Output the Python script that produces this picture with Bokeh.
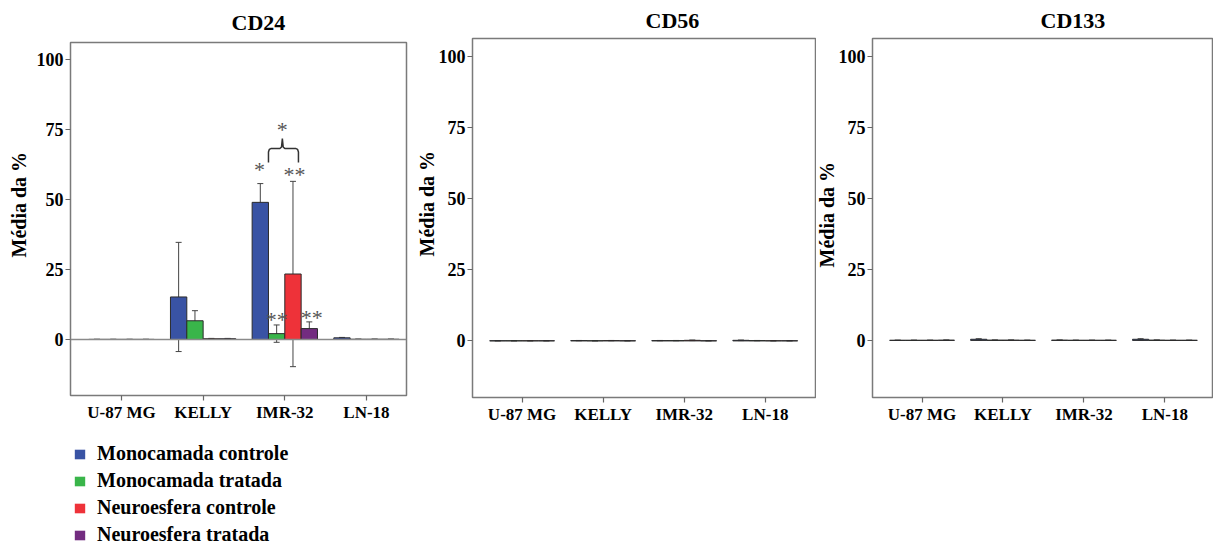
from bokeh.plotting import figure
from bokeh.models import (ColumnDataSource, Whisker, TeeHead, FixedTicker, Range1d,
                          Span, Legend, LegendItem, Title)
from bokeh.layouts import row, column
from bokeh.embed import file_html
from bokeh.resources import INLINE
from bokeh.core.properties import value

# ---------------- data ----------------
categories = ["U-87 MG", "KELLY", "IMR-32", "LN-18"]
series_names = ["Monocamada controle", "Monocamada tratada",
                "Neuroesfera controle", "Neuroesfera tratada"]
series_colors = ["#3953A4", "#39B54A", "#EE3239", "#732C80"]
y_ticks = [0, 25, 50, 75, 100]

# CD24 (mean %, error)
cd24_mono_ctrl = [0.05, 15.2, 49.0, 0.6]
cd24_mono_ctrl_err = [0.05, 19.5, 6.7, 0.15]
cd24_mono_trat = [0.05, 6.7, 2.1, 0.1]
cd24_mono_trat_err = [0.05, 3.6, 3.1, 0.05]
cd24_neuro_ctrl = [0.05, 0.3, 23.4, 0.1]
cd24_neuro_ctrl_err = [0.05, 0.1, 33.1, 0.05]
cd24_neuro_trat = [0.05, 0.3, 3.9, 0.1]
cd24_neuro_trat_err = [0.05, 0.1, 2.4, 0.05]

# CD56
cd56_mono_ctrl = [0.05, 0.1, 0.1, 0.2]
cd56_mono_ctrl_err = [0.05, 0.05, 0.05, 0.1]
cd56_mono_trat = [0.05, 0.05, 0.1, 0.1]
cd56_mono_trat_err = [0.05, 0.05, 0.05, 0.05]
cd56_neuro_ctrl = [0.05, 0.1, 0.2, 0.05]
cd56_neuro_ctrl_err = [0.05, 0.05, 0.1, 0.05]
cd56_neuro_trat = [0.05, 0.05, 0.05, 0.05]
cd56_neuro_trat_err = [0.05, 0.05, 0.05, 0.05]

# CD133
cd133_mono_ctrl = [0.05, 0.4, 0.1, 0.4]
cd133_mono_ctrl_err = [0.05, 0.2, 0.05, 0.2]
cd133_mono_trat = [0.05, 0.1, 0.05, 0.1]
cd133_mono_trat_err = [0.05, 0.05, 0.05, 0.05]
cd133_neuro_ctrl = [0.05, 0.1, 0.05, 0.05]
cd133_neuro_ctrl_err = [0.05, 0.05, 0.05, 0.05]
cd133_neuro_trat = [0.1, 0.05, 0.05, 0.05]
cd133_neuro_trat_err = [0.05, 0.05, 0.05, 0.05]

# significance marks on CD24 (x in category units, y = centre of mark in %)
sig_x = [2.69, 2.90, 3.12, 3.33, 2.97]
sig_y = [61.4, 7.9, 59.6, 8.6, 75.7]
sig_text = ["*", "**", "**", "**", "*"]
brace_x = [2.80, 2.80, 2.81, 2.83, 2.94, 2.96, 2.97, 2.98, 3.00, 3.137, 3.157, 3.167, 3.167]
brace_y = [63.2, 67.0, 67.9, 68.2, 68.2, 68.8, 71.8, 68.8, 68.2, 68.2, 67.9, 67.0, 63.2]

FONT = "Liberation Serif"
BAR_W = 0.2
OFFSETS = [-0.3, -0.1, 0.1, 0.3]


def make_panel(title, means, errs, width, height, borders, xr, yr,
               title_offset, title_standoff, ylab_offset, ylab_standoff):
    p = figure(width=width, height=height, output_backend="svg", toolbar_location=None,
               x_range=Range1d(*xr), y_range=Range1d(*yr), title=title)
    p.min_border_left, p.min_border_right, p.min_border_top, p.min_border_bottom = borders
    p.background_fill_color = "white"
    p.border_fill_color = "white"
    p.outline_line_color = "#7a7a7a"
    p.outline_line_width = 1.5
    p.xgrid.visible = False
    p.ygrid.visible = False

    for k in range(4):
        xs = [i + 1 + OFFSETS[k] for i in range(len(categories))]
        m = means[k]
        e = errs[k]
        src = ColumnDataSource(dict(x=xs, top=m,
                                    upper=[a + b for a, b in zip(m, e)],
                                    lower=[a - b for a, b in zip(m, e)]))
        p.vbar(x="x", top="top", bottom=0, width=BAR_W, source=src,
               fill_color=series_colors[k], line_color="#2b2b2b", line_width=1)
        w = Whisker(source=src, base="x", upper="upper", lower="lower",
                    line_color="#444444", line_width=1,
                    upper_head=TeeHead(size=6, line_color="#444444", line_width=1),
                    lower_head=TeeHead(size=6, line_color="#444444", line_width=1))
        p.add_layout(w)

    # axes
    p.xaxis.ticker = FixedTicker(ticks=[1, 2, 3, 4])
    p.xaxis.major_label_overrides = {i + 1: c for i, c in enumerate(categories)}
    p.yaxis.ticker = FixedTicker(ticks=y_ticks)
    for ax in (p.xaxis, p.yaxis):
        ax.axis_line_color = None
        ax.major_tick_line_color = "#666666"
        ax.major_tick_line_width = 1.2
        ax.major_tick_out = 5
        ax.major_tick_in = 0
        ax.minor_tick_line_color = None
        ax.major_label_text_font = FONT
        ax.major_label_text_font_style = "bold"
        ax.major_label_text_color = "black"
        ax.major_label_standoff = 2
    p.xaxis.major_label_text_font_size = "17px"
    p.yaxis.major_label_text_font_size = "18px"

    # y-axis title placed as a side title (slightly above the frame centre, as in the original)
    ylab = Title(text="Média da %", align="left", offset=ylab_offset, standoff=ylab_standoff,
                 text_font=FONT, text_font_style="bold", text_font_size="20px",
                 text_color="black")
    p.add_layout(ylab, "left")

    p.title.align = "left"
    p.title.offset = title_offset
    p.title.standoff = title_standoff
    p.title.text_font = FONT
    p.title.text_font_style = "bold"
    p.title.text_font_size = "22px"
    p.title.text_color = "black"
    return p


p1 = make_panel("CD24",
                [cd24_mono_ctrl, cd24_mono_trat, cd24_neuro_ctrl, cd24_neuro_trat],
                [cd24_mono_ctrl_err, cd24_mono_trat_err, cd24_neuro_ctrl_err, cd24_neuro_trat_err],
                416, 425, (70, 10, 42, 30), (0.376, 4.49), (-20.0, 106.1), 161, 15, 138, 7)
p1.add_layout(Span(location=0, dimension="width", line_color="#8a8a8a", line_width=1.5))
p1.text(x=sig_x, y=sig_y, text=sig_text, text_font=value(FONT), text_font_size="22px",
        text_align="center", text_baseline="middle", y_offset=2, text_color="#555555")
p1.line(x=brace_x, y=brace_y, line_color="#333333", line_width=1.5)

# legend panel under CD24
leg = figure(width=416, height=119, output_backend="svg", toolbar_location=None,
             x_range=Range1d(0, 1), y_range=Range1d(0, 1),
             x_axis_type=None, y_axis_type=None)
leg.min_border_left = 70
leg.min_border_right = 10
leg.min_border_top = 0
leg.min_border_bottom = 0
leg.outline_line_color = None
leg.xgrid.visible = False
leg.ygrid.visible = False
nan = float("nan")
items = []
for name, col in zip(series_names, series_colors):
    r = leg.vbar(x=[nan], top=[nan], width=0.1, fill_color=col, line_color=None)
    items.append(LegendItem(label=name, renderers=[r]))
legend = Legend(items=items, location=(3, -2), padding=0, spacing=4, margin=0,
                glyph_width=13, glyph_height=12, label_standoff=11, label_height=23,
                label_text_font=FONT, label_text_font_style="bold",
                label_text_font_size="20px", label_text_color="black",
                border_line_color=None, background_fill_alpha=0)
leg.add_layout(legend)

p2 = make_panel("CD56",
                [cd56_mono_ctrl, cd56_mono_trat, cd56_neuro_ctrl, cd56_neuro_trat],
                [cd56_mono_ctrl_err, cd56_mono_trat_err, cd56_neuro_ctrl_err, cd56_neuro_trat_err],
                400, 430, (53, 1, 38, 31), (0.388, 4.62), (-19.9, 106.3), 173, 11, 141, -5)

p3 = make_panel("CD133",
                [cd133_mono_ctrl, cd133_mono_trat, cd133_neuro_ctrl, cd133_neuro_trat],
                [cd133_mono_ctrl_err, cd133_mono_trat_err, cd133_neuro_ctrl_err, cd133_neuro_trat_err],
                397, 430, (53, 1, 38, 33), (0.388, 4.588), (-20.1, 106.3), 168, 11, 130, -5)

layout = row(column(p1, leg), p2, p3)
open("out.html", "w").write(file_html(layout, INLINE))
